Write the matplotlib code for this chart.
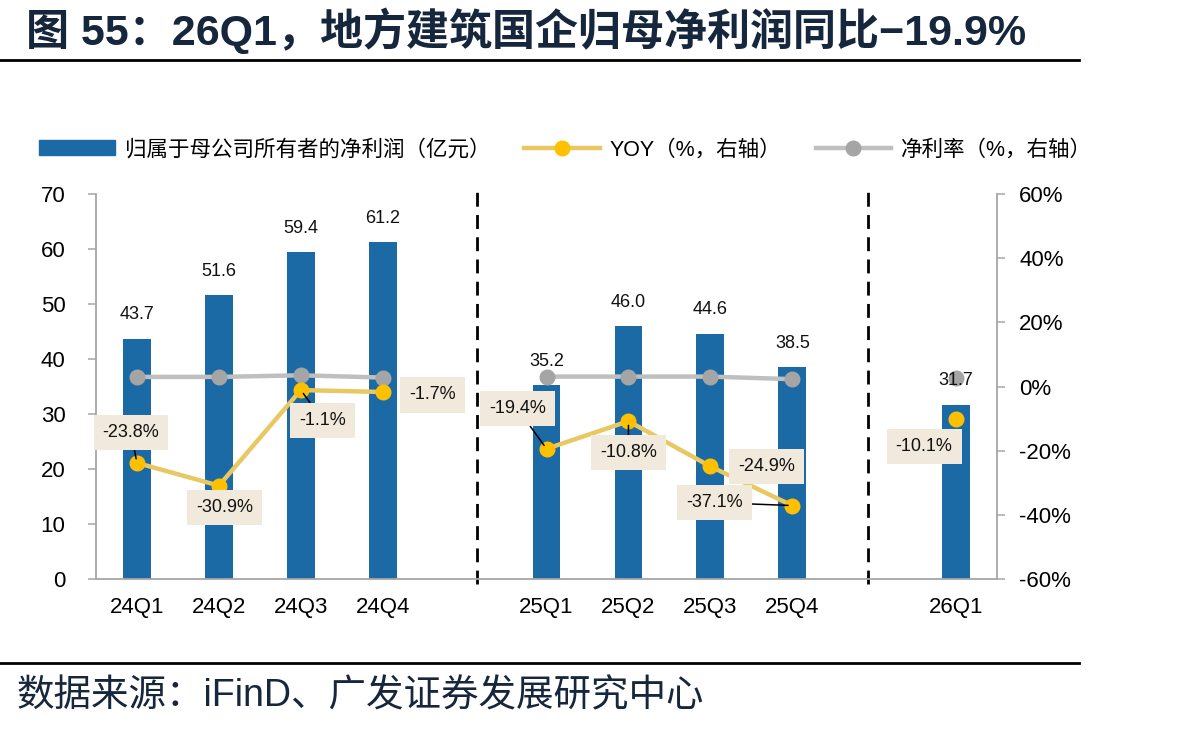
import matplotlib
matplotlib.use("Agg")
import matplotlib.pyplot as plt
import numpy as np
from matplotlib.lines import Line2D
from matplotlib.patches import Patch

plt.rcParams['font.family'] = ['Liberation Sans', 'Noto Sans CJK SC', 'DejaVu Sans']

# data ('' = empty slot between years)
categories = ['24Q1', '24Q2', '24Q3', '24Q4', '', '25Q1', '25Q2', '25Q3', '25Q4', '', '26Q1']
profit = [43.7, 51.6, 59.4, 61.2, np.nan, 35.2, 46.0, 44.6, 38.5, np.nan, 31.7]
yoy = [-23.8, -30.9, -1.1, -1.7, np.nan, -19.4, -10.8, -24.9, -37.1, np.nan, -10.1]
margin = [3.0, 3.0, 3.5, 2.8, np.nan, 3.1, 3.1, 3.1, 2.3, np.nan, 2.8]

# label offsets (pixels) and whether a leader line is drawn
yoy_offsets = [(-6, 30), (6, -22), (22, -30), (50, -3), None,
               (-29, 40), (0, -31), (56, 0), (-78, 3), None, (-32, -28)]
yoy_leader = [True, False, True, False, None, True, True, False, True, None, False]

BLUE = '#1B6AA5'
GOLD_LINE = '#E8C862'
GOLD_MK = '#FFC000'
GRAY_LINE = '#BFBFBF'
GRAY_MK = '#A5A5A5'
SPINE = '#A6A6A6'
NAVY = '#15263D'
BOX = '#F1EADC'

fig = plt.figure(figsize=(11.87, 7.35), dpi=100)
ax = fig.add_axes([0.0809, 0.2122, 0.7591, 0.5238])
ax2 = ax.twinx()

x = np.arange(len(categories))
ax.bar(x, profit, width=0.34, color=BLUE, zorder=2)

ax.set_xlim(-0.5, len(categories) - 0.5)
ax.set_ylim(0, 70)
ax.set_yticks(range(0, 71, 10))
ax.set_xticks(x)
ax.set_xticklabels(categories)
ax.tick_params(axis='x', length=0, pad=13, labelsize=16)
ax.tick_params(axis='y', length=6, width=1.1, color=SPINE, pad=16, labelsize=16)

# separators between years
gaps = [i for i, c in enumerate(categories) if c == '']
for g, shift in zip(gaps, [0.15, -0.07]):
    ax.axvline(g + shift, ymin=-0.012, ymax=1.005, color='black', lw=2,
               dashes=(5, 3), clip_on=False, zorder=1)

ax2.plot(x, margin, color=GRAY_LINE, lw=3.2, marker='o', markersize=10.5,
         markerfacecolor=GRAY_MK, markeredgecolor=GRAY_MK, zorder=3)
ax2.plot(x, yoy, color=GOLD_LINE, lw=3.2, marker='o', markersize=10.5,
         markerfacecolor=GOLD_MK, markeredgecolor=GOLD_MK, zorder=4)
ax2.set_ylim(-60, 60)
ax2.set_yticks(range(-60, 61, 20))
ax2.set_yticklabels([f'{t}%' for t in range(-60, 61, 20)])
ax2.tick_params(axis='y', length=6, width=1.1, color=SPINE, pad=10, labelsize=16)

# bar value labels drawn above the lines
for xi, v in zip(x, profit):
    if not np.isnan(v):
        ax2.annotate(f'{v:.1f}', (xi, v), xycoords=ax.transData, xytext=(0, 24),
                     textcoords='offset pixels', ha='center', va='center',
                     fontsize=13, color='#111111', zorder=6)

for xi, v, off, lead in zip(x, yoy, yoy_offsets, yoy_leader):
    if np.isnan(v):
        continue
    arrow = dict(arrowstyle='-', color='black', lw=1.1, shrinkA=0, shrinkB=3) if lead else None
    ax2.annotate(f'{v:.1f}%', (xi, v), xytext=off, textcoords='offset pixels',
                 ha='center', va='center', fontsize=13, color='#111111',
                 bbox=dict(boxstyle='square,pad=0.5', fc=BOX, ec='none'),
                 arrowprops=arrow, zorder=5)

for a in (ax, ax2):
    a.spines['top'].set_visible(False)
    for s in ('left', 'right', 'bottom'):
        a.spines[s].set_color(SPINE)
        a.spines[s].set_linewidth(1.3)
ax.spines['right'].set_visible(False)
ax2.spines['left'].set_visible(False)
ax2.spines['bottom'].set_visible(False)

# legend
handles = [Patch(color=BLUE),
           Line2D([], [], color=GOLD_LINE, lw=3.2, marker='o', markersize=10.5,
                  markerfacecolor=GOLD_MK, markeredgecolor=GOLD_MK),
           Line2D([], [], color=GRAY_LINE, lw=3.2, marker='o', markersize=10.5,
                  markerfacecolor=GRAY_MK, markeredgecolor=GRAY_MK)]
labels = ['归属于母公司所有者的净利润（亿元）', 'YOY（%，右轴）', '净利率（%，右轴）']
fig.legend(handles, labels, loc='center left', bbox_to_anchor=(0.026, 0.796),
           ncol=3, frameon=False, fontsize=15.5, handlelength=3.5, handleheight=0.7,
           handletextpad=0.45, columnspacing=1.6, borderaxespad=0)

# title, rules and source
fig.text(0.022, 0.958, '图 55：26Q1，地方建筑国企归母净利润同比−19.9%', fontsize=31,
         fontweight='bold', color=NAVY, va='center', ha='left')
fig.add_artist(Line2D([0, 0.909], [0.918, 0.918], color='black', lw=2))
fig.add_artist(Line2D([0, 0.909], [0.098, 0.098], color='black', lw=2))
fig.text(0.014, 0.052, '数据来源：iFinD、广发证券发展研究中心', fontsize=27,
         color=NAVY, va='center', ha='left')

fig.savefig('out.png', dpi=100)
